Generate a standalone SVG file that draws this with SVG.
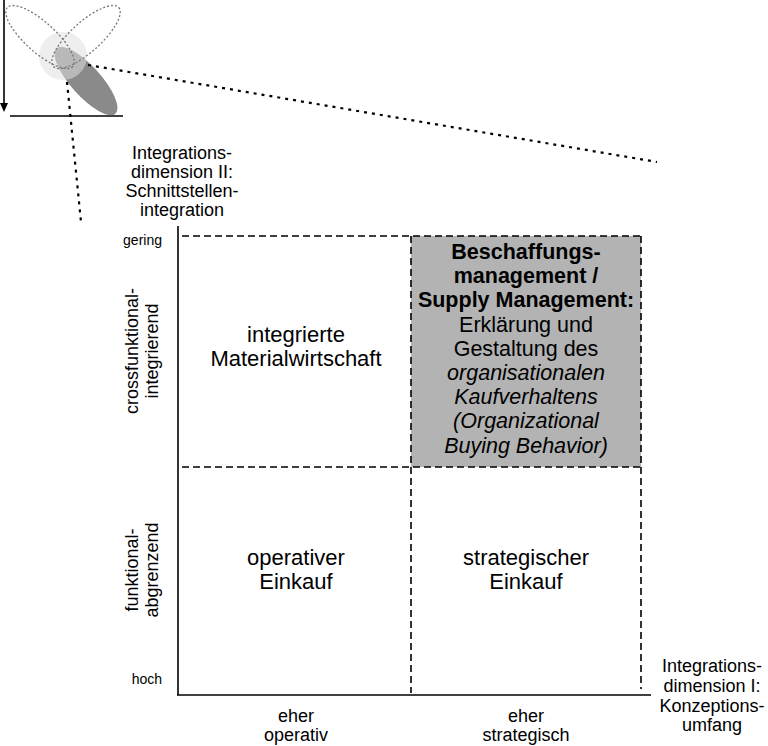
<svg xmlns="http://www.w3.org/2000/svg" width="768" height="746" viewBox="0 0 768 746">
<style>
text{font-family:"Liberation Sans",Arial,sans-serif;fill:#000}
.lbl{font-size:18px;text-anchor:middle}
.cell{font-size:22px;text-anchor:middle}
.box{font-size:21.5px;text-anchor:middle}
.sm{font-size:14px;text-anchor:end}
.dash{stroke:#000;stroke-width:1.6;stroke-dasharray:7 4;fill:none}
.dot{stroke:#000;stroke-width:2.2;stroke-dasharray:3 5;fill:none}
.dotg{stroke:#777;stroke-width:1.3;stroke-dasharray:2 2;fill:none}
</style>
<g id="icon">
<line x1="4" y1="0" x2="4" y2="103" stroke="#000" stroke-width="1.6"/>
<path d="M0,103 L8,103 L4,112 Z" fill="#000"/>
<line x1="10" y1="116" x2="123" y2="116" stroke="#000" stroke-width="1.6"/>
<ellipse cx="86" cy="81" rx="44" ry="15" transform="rotate(48 86 81)" fill="#8a8a8a"/>
<circle cx="63" cy="56" r="24" fill="#e0e0e0" fill-opacity="0.55"/>
<ellipse cx="40" cy="37" rx="44" ry="15" transform="rotate(42 40 37)" class="dotg"/>
<ellipse cx="86" cy="37" rx="44" ry="15" transform="rotate(-42 86 37)" class="dotg"/>
</g>
<g id="connectors">
<line x1="88" y1="65" x2="657" y2="162" class="dot"/>
<line x1="67" y1="82" x2="81" y2="222" class="dot"/>
<line x1="178" y1="226" x2="178" y2="695" stroke="#000" stroke-width="1.6"/>
<line x1="177" y1="695" x2="651" y2="695" stroke="#000" stroke-width="1.6"/>
</g>
<g id="box-supply">
<rect x="411" y="236" width="230" height="231" fill="#b3b3b3"/>
<text class="box" font-weight="bold" x="526" y="259">Beschaffungs-</text>
<text class="box" font-weight="bold" x="526" y="283">management /</text>
<text class="box" font-weight="bold" x="526" y="307">Supply Management:</text>
<text class="box" x="526" y="332">Erklärung und</text>
<text class="box" x="526" y="356">Gestaltung des</text>
<text class="box" font-style="italic" x="526" y="380">organisationalen</text>
<text class="box" font-style="italic" x="526" y="404">Kaufverhaltens</text>
<text class="box" font-style="italic" x="526" y="428">(Organizational</text>
<text class="box" font-style="italic" x="526" y="453">Buying Behavior)</text>
</g>
<g id="grid">
<line x1="182" y1="236" x2="641" y2="236" class="dash"/>
<line x1="182" y1="467" x2="641" y2="467" class="dash"/>
<line x1="411" y1="236" x2="411" y2="693" class="dash"/>
<line x1="641" y1="236" x2="641" y2="689" class="dash"/>
</g>
<g id="label-dim2">
<text class="lbl" x="182" y="159">Integrations-</text>
<text class="lbl" x="182" y="178">dimension II:</text>
<text class="lbl" x="182" y="197">Schnittstellen-</text>
<text class="lbl" x="182" y="216">integration</text>
</g>
<g id="label-dim1">
<text class="lbl" font-size="16" x="712" y="672">Integrations-</text>
<text class="lbl" font-size="16" x="712" y="692">dimension I:</text>
<text class="lbl" font-size="16" x="712" y="712">Konzeptions-</text>
<text class="lbl" font-size="16" x="712" y="731">umfang</text>
</g>
<g id="scale">
<text class="sm" x="162" y="245">gering</text>
<text class="sm" x="162" y="684">hoch</text>
</g>
<g id="row-labels">
<text class="lbl" transform="translate(138 351) rotate(-90)">crossfunktional-</text>
<text class="lbl" transform="translate(158 351) rotate(-90)">integrierend</text>
<text class="lbl" transform="translate(138 570) rotate(-90)">funktional-</text>
<text class="lbl" transform="translate(158 570) rotate(-90)">abgrenzend</text>
</g>
<g id="cell-materialwirtschaft">
<text class="cell" x="296" y="342">integrierte</text>
<text class="cell" x="296" y="366">Materialwirtschaft</text>
</g>
<g id="cell-operativ">
<text class="cell" x="296" y="565">operativer</text>
<text class="cell" x="296" y="589">Einkauf</text>
</g>
<g id="cell-strategisch">
<text class="cell" x="526" y="565">strategischer</text>
<text class="cell" x="526" y="589">Einkauf</text>
</g>
<g id="col-labels">
<text class="lbl" font-size="17" x="296" y="722">eher</text>
<text class="lbl" font-size="17" x="296" y="741">operativ</text>
<text class="lbl" font-size="17" x="526" y="722">eher</text>
<text class="lbl" font-size="17" x="526" y="741">strategisch</text>
</g>
</svg>
